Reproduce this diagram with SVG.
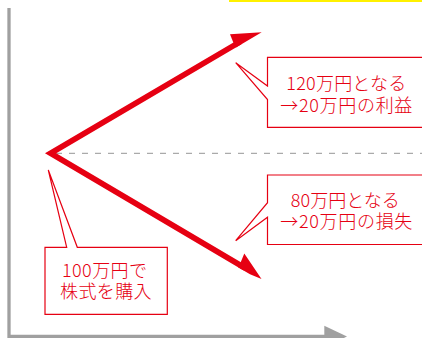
<svg xmlns="http://www.w3.org/2000/svg" width="422" height="338" viewBox="0 0 422 338">
<style>
.axis{stroke:#a0a0a0;stroke-width:3.3;fill:none}
.dash{stroke:#aaaaaa;stroke-width:1.3;stroke-dasharray:6 7;fill:none}
.shaft{stroke:#e60012;stroke-width:5.7;fill:none;stroke-linejoin:miter}
.head{fill:#e60012;stroke:none}
.callout{fill:#ffffff;stroke:#e60012;stroke-width:1.2}
.lbl{font-family:"Noto Sans CJK JP","Noto Sans",sans-serif;font-size:18px;font-weight:300;fill:#e60012;text-anchor:middle}
</style>
<rect x="229" y="0" width="193" height="2" fill="#fff100"/>
<g id="axes">
<path class="axis" d="M9,8 V336.5 H326"/>
<polygon points="324.3,325.7 347,336.5 324.3,347.3" fill="#a0a0a0"/>
</g>
<line class="dash" x1="56" y1="153.3" x2="422" y2="153.3"/>
<g id="connectors">
<path class="shaft" d="M240,41.9 L50.6,153.3 L245,268"/>
<polygon class="head" points="233.3,42.6 230,34.3 261.7,32.2 236,47.6"/>
<polygon class="head" points="240.7,262.2 244.3,253.5 261.5,279 250,274.2 238,267.2"/>
</g>
<g id="node-profit">
<path class="callout" d="M430,57.3 H267.5 V86 L235.7,62.7 L267.5,99.5 V127.3 H430"/>
<text class="lbl"><tspan x="346.3" y="90" textLength="120" lengthAdjust="spacing">120万円となる</tspan><tspan x="346.3" y="111.7" textLength="132" lengthAdjust="spacing">→20万円の利益</tspan></text>
</g>
<g id="node-loss">
<path class="callout" d="M430,175 H267.5 V202.7 L235.7,240.7 L267.5,217.3 V244.5 H430"/>
<text class="lbl"><tspan x="345.3" y="206.7" textLength="109" lengthAdjust="spacing">80万円となる</tspan><tspan x="346.3" y="228.3" textLength="132" lengthAdjust="spacing">→20万円の損失</tspan></text>
</g>
<g id="node-buy">
<path class="callout" d="M66.7,247.3 H45 V314.3 H167.3 V247.3 H77.3 L48.3,170 Z"/>
<text class="lbl"><tspan x="104.5" y="277.3" textLength="85" lengthAdjust="spacing">100万円で</tspan><tspan x="105.8" y="298.3" textLength="91.5" lengthAdjust="spacing">株式を購入</tspan></text>
</g>
</svg>
